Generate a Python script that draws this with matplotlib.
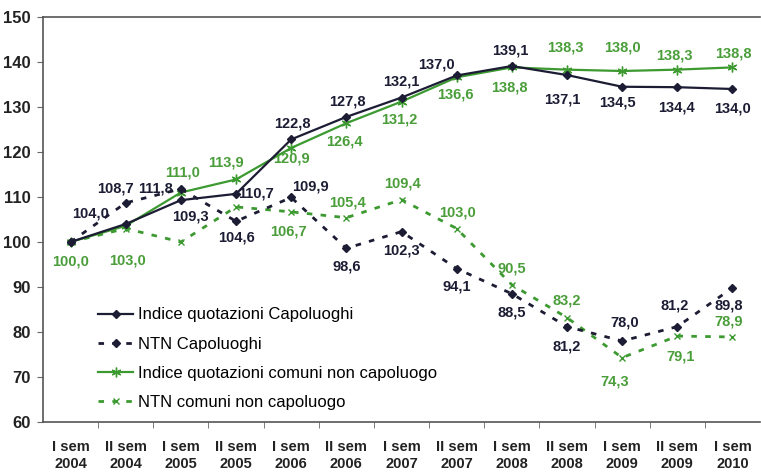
import matplotlib.pyplot as plt

periodi = ["I sem\n2004", "II sem\n2004", "I sem\n2005", "II sem\n2005", "I sem\n2006",
           "II sem\n2006", "I sem\n2007", "II sem\n2007", "I sem\n2008", "II sem\n2008",
           "I sem\n2009", "II sem\n2009", "I sem\n2010"]

indice_capoluoghi = [100.0, 104.0, 109.3, 110.7, 122.8, 127.8, 132.1, 137.0, 139.1, 137.1, 134.5, 134.4, 134.0]
ntn_capoluoghi = [100.0, 108.7, 111.8, 104.6, 109.9, 98.6, 102.3, 94.1, 88.5, 81.2, 78.0, 81.2, 89.8]
indice_non_capoluogo = [100.0, 103.6, 111.0, 113.9, 120.9, 126.4, 131.2, 136.6, 138.8, 138.3, 138.0, 138.3, 138.8]
ntn_non_capoluogo = [100.0, 103.0, 100.0, 107.8, 106.7, 105.4, 109.4, 103.0, 90.5, 83.2, 74.3, 79.1, 78.9]

# label offsets in pixels (dx, dy); None = no label shown
off_ind_cap = [None, (-35, 11), (10, -16), (20, 0), (1, 16), (1, 15), (0, 16), (-20, 11),
               (-2, 16), (-5, -24), (-5, -16), (-1, -20), (0, -20)]
off_ntn_cap = [None, (-10, 14), (-25, 0), (0, -16), (19, 11), (0, -18), (0, -19), (0, -18),
               (0, -19), (0, -20), (3, 19), (-3, 21), (-4, -18)]
off_ind_nc = [(0, -19), None, (2, 20), (-10, 17), (0, -11), (-2, -18), (-2, -18), (-1, -17),
              (-2, -20), (-2, 22), (0, 23), (-3, 14), (1, 14)]
off_ntn_nc = [None, (2, -32), None, None, (-3, -20), (1, 15), (1, 16), (1, 16),
              (0, 16), (0, 17), (-7, -24), (3, -20), (-4, 15)]

navy = "#1c1c34"
verde = "#3c9a30"
verde_txt = "#4a9e3a"

plt.rcParams['font.family'] = ['Liberation Sans', 'DejaVu Sans']

fig = plt.figure(figsize=(7.61, 4.76), dpi=100)
ax = fig.add_axes([0.0565, 0.1134, 0.9422, 0.8509])

x = list(range(len(periodi)))
ax.plot(x, indice_capoluoghi, color=navy, lw=1.6, marker='D', ms=4,
        label="Indice quotazioni Capoluoghi", zorder=4)
ax.plot(x, ntn_capoluoghi, color=navy, lw=2, ls=(0, (2, 3)), marker='D', ms=4,
        label="NTN Capoluoghi", zorder=4)
ax.plot(x, indice_non_capoluogo, color=verde, lw=1.6, marker=(6, 2, 0), ms=7, mew=1,
        label="Indice quotazioni comuni non capoluogo", zorder=3)
ax.plot(x, ntn_non_capoluogo, color=verde, lw=2, ls=(0, (2, 3)), marker='x', ms=5, mew=1,
        label="NTN comuni non capoluogo", zorder=3)

def etichette(valori, offsets, colore):
    for i, (v, o) in enumerate(zip(valori, offsets)):
        if o is None:
            continue
        ax.annotate(f"{v:.1f}".replace('.', ','), (i, v), xytext=o, textcoords='offset pixels',
                    ha='center', va='center', fontsize=10.5, fontweight='bold', color=colore)

etichette(indice_capoluoghi, off_ind_cap, navy)
etichette(ntn_capoluoghi, off_ntn_cap, navy)
etichette(indice_non_capoluogo, off_ind_nc, verde_txt)
etichette(ntn_non_capoluogo, off_ntn_nc, verde_txt)

ax.set_xlim(-0.5, len(periodi) - 0.5)
ax.set_ylim(60, 150)
ax.set_yticks(range(60, 151, 10))
ax.set_xticks(x)
ax.set_xticklabels(periodi, fontsize=10.5, fontweight='bold', color='#222222', linespacing=1.25)
ax.set_xticks([i + 0.5 for i in x[:-1]], minor=True)
ax.tick_params(axis='x', which='major', length=0, pad=13)
ax.tick_params(axis='x', which='minor', length=4, color='#666666')
ax.tick_params(axis='y', length=4, color='#666666', labelsize=12, pad=5)
for t in ax.get_yticklabels():
    t.set_fontweight('bold')
    t.set_color('#222222')

for s in ['left', 'bottom', 'top']:
    ax.spines[s].set_color('#555555')
    ax.spines[s].set_linewidth(1.2)
ax.spines['right'].set_visible(False)

ax.legend(loc='upper left', bbox_to_anchor=(0.077, 0.283), frameon=False, fontsize=12,
          handlelength=2.1, labelspacing=0.85, borderpad=0, borderaxespad=0, handletextpad=0.3)

fig.savefig("out.png", dpi=100)
